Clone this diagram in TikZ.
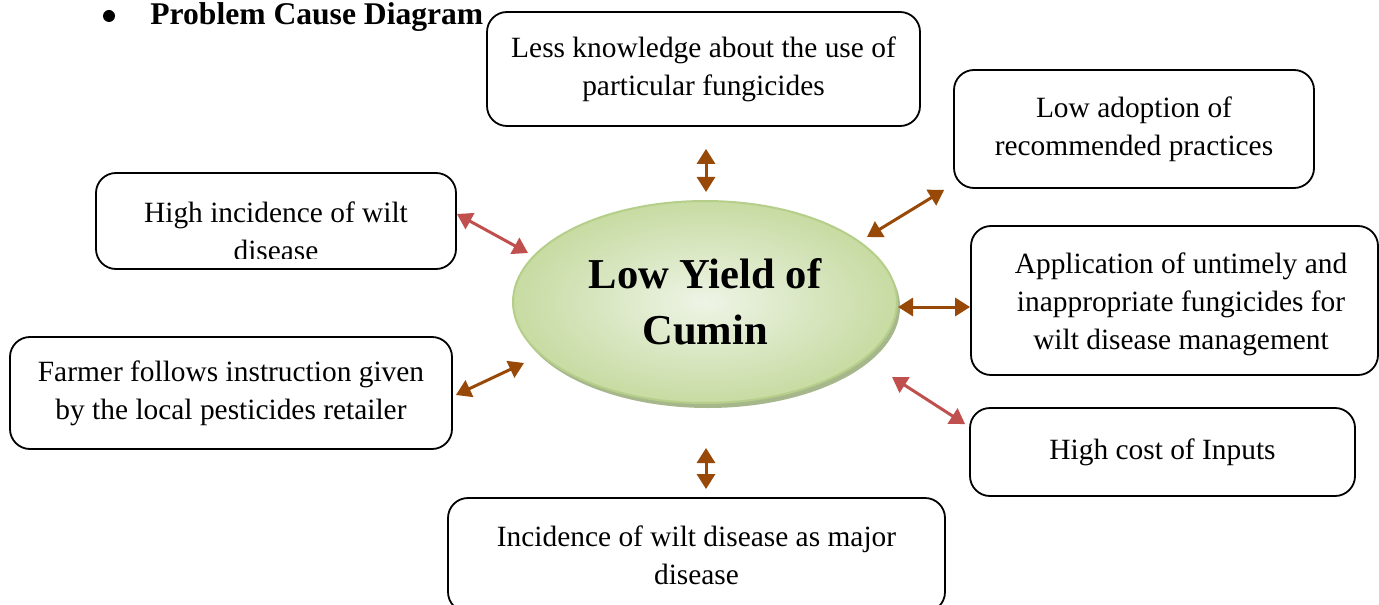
\documentclass[tikz,border=0pt]{standalone}
\usepackage{fontspec}
\setmainfont{Liberation Serif}
\usetikzlibrary{arrows.meta,calc,shapes.geometric,shadows}
\definecolor{brown}{HTML}{984807}
\definecolor{rose}{HTML}{C0504D}
\definecolor{leaf}{HTML}{C7DBA2}
\definecolor{leafpale}{HTML}{EEF4E6}
\definecolor{leafline}{HTML}{B5CF8B}
\definecolor{leafshade}{HTML}{A7B78C}

\begin{document}
\begin{tikzpicture}[x=0.5pt,y=-0.5pt,
  box/.style={draw,line width=0.9pt,rounded corners=10pt,align=center,inner sep=0pt,font=\fontsize{14.7}{19}\selectfont},
  brarr/.style={{Triangle[length=7.5pt,width=9pt]}-{Triangle[length=7.5pt,width=9pt]},line width=1.5pt,draw=brown,fill=brown},
  rdarr/.style={{Triangle[length=7.5pt,width=9pt]}-{Triangle[length=7.5pt,width=9pt]},line width=1.5pt,draw=rose,fill=rose}]
\useasboundingbox (0,0) rectangle (1379,604);

% heading
\node[circle,fill,inner sep=0pt,minimum size=6pt] (dot) at (109,16) {};
\node[anchor=base west,inner sep=0pt,font=\fontsize{15.8}{19}\selectfont\bfseries] (head) at (150,25) {Problem Cause Diagram};

% centre
\node[ellipse,minimum width=192pt,minimum height=101pt,inner sep=0pt,draw=leafline,line width=1pt,
  inner color=leafpale,outer color=leaf,
  drop shadow={shadow xshift=1.5pt,shadow yshift=-2.5pt,fill=leafshade,opacity=1},
  align=center,font=\fontsize{21.3}{28}\selectfont\bfseries] (ctr) at (705,302) {Low Yield of\\Cumin};

% causes
\node[box,minimum width=216.5pt,minimum height=57pt] (know) at (703.5,69) {Less knowledge about the use of\\particular fungicides};
\node[box,minimum width=180pt,minimum height=59pt] (adopt) at (1134,129) {Low adoption of\\recommended practices};
\node[box,minimum width=180pt,minimum height=48pt] (wilt) at (276,221) {};
\begin{scope}
\clip (96,173) rectangle (456,258);
\node[align=center,font=\fontsize{14.7}{19}\selectfont] (wilttxt) at (276,231) {High incidence of wilt\\disease};
\end{scope}
\node[box,minimum width=203.5pt,minimum height=74.5pt] (appl) at (1174.5,300.5) {};
\node[align=center,font=\fontsize{14.7}{19}\selectfont] (appltxt) at (1181,304) {Application of untimely and\\inappropriate fungicides for\\wilt disease management};
\node[box,minimum width=221pt,minimum height=56pt] (farmer) at (231,393) {Farmer follows instruction given\\by the local pesticides retailer};
\node[box,minimum width=192.5pt,minimum height=44pt] (cost) at (1162.5,452) {High cost of Inputs};
\node[box,minimum width=248.5pt,minimum height=57pt,text depth=0pt] (major) at (696.5,555) {Incidence of wilt disease as major\\disease};

% links
\draw[brarr] ($(ctr.north)+(1,-8)$) -- ($(know.south)+(2.5,22)$);
\draw[brarr] ($(ctr)+(162,-65)$) -- ($(adopt.south west)+(-9,1)$);
\draw[brarr] ($(ctr.east)+(0,5)$) -- ($(appl.west |- ctr.east)+(0,5)$);
\draw[rdarr] ($(ctr)+(187,75)$) -- ($(cost.north west)+(-4,17)$);
\draw[brarr] ($(ctr.south)+(1,44)$) -- ($(major.north -| ctr.south)+(1,-8)$);
\draw[brarr] ($(ctr)+(-181,61)$) -- ($(farmer.east)+(3,2)$);
\draw[rdarr] ($(ctr)+(-177,-49)$) -- ($(wilt.east)+(0,-7)$);
\end{tikzpicture}
\end{document}
